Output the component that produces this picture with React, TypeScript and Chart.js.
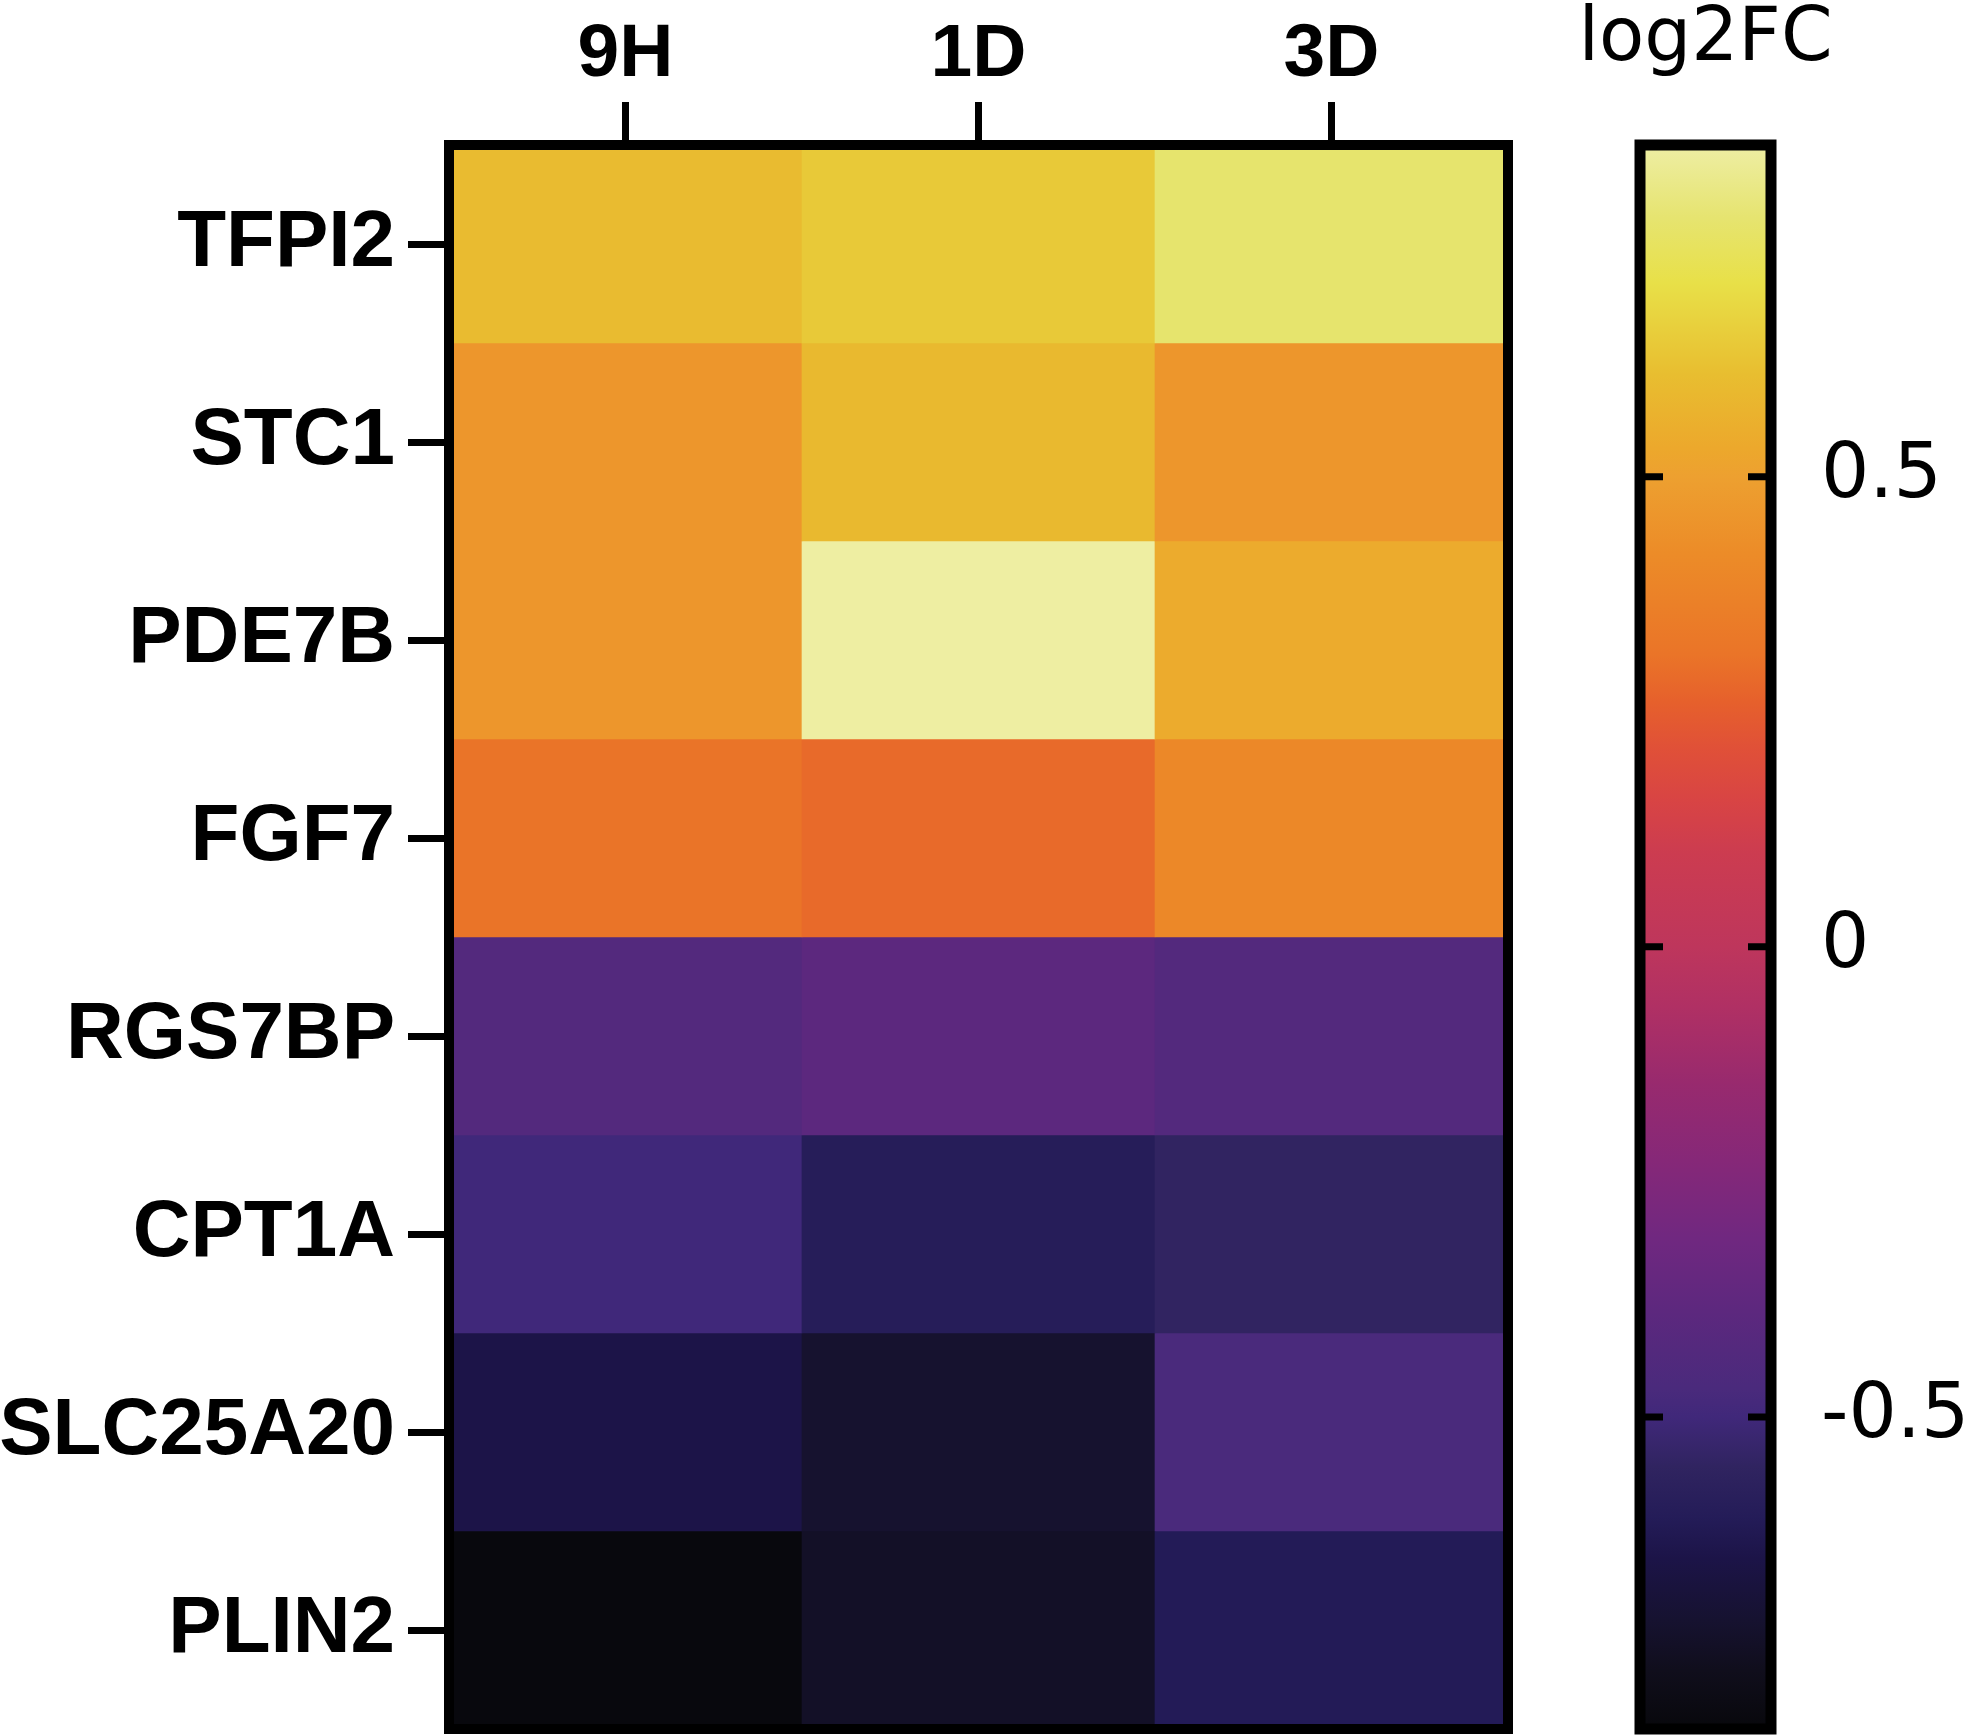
import React, { useEffect, useRef } from 'react';
import { Chart, registerables } from 'chart.js';

Chart.register(...registerables);

// ---------- data ----------
const timepoints = ['9H', '1D', '3D'];
const genes = ['TFPI2', 'STC1', 'PDE7B', 'FGF7', 'RGS7BP', 'CPT1A', 'SLC25A20', 'PLIN2'];
const log2fc9H = [0.6, 0.46, 0.46, 0.31, -0.43, -0.5, -0.65, -0.83];
const log2fc1D = [0.64, 0.59, 0.85, 0.285, -0.39, -0.6, -0.72, -0.74];
const log2fc3D = [0.77, 0.46, 0.54, 0.4, -0.43, -0.55, -0.47, -0.61];
const colorbarTicks = [-0.5, 0, 0.5];
const colorMin = -0.832;
const colorMax = 0.853;
const colorbarTitle = 'log2FC';

// colour map (value -> colour)
const stopValues = [-0.832, -0.77, -0.716, -0.65, -0.607, -0.553, -0.5, -0.47, -0.39, -0.31, -0.227, -0.145, -0.064, 0, 0.1, 0.155, 0.21, 0.26, 0.31, 0.42, 0.5, 0.53, 0.61, 0.706, 0.776, 0.853];
const stopColors = ['#08080c', '#100e1c', '#161230', '#1c1448', '#241c58', '#302460', '#40287a', '#4a2a7c', '#5c287e', '#702880', '#862878', '#982a6e', '#b03064', '#be365c', '#cc3c50', '#d84444', '#e05038', '#e6602c', '#ea7428', '#ec8c28', '#eda030', '#eca82c', '#e8be30', '#e8e048', '#e6e470', '#eeeea4'];

const BOLD_FONT = '"Liberation Sans", Arial, Helvetica, sans-serif';
const REG_FONT = '"DejaVu Sans", "Liberation Sans", Arial, sans-serif';

function hexToRgb(h: string): number[] {
  const n = parseInt(h.slice(1), 16);
  return [(n >> 16) & 255, (n >> 8) & 255, n & 255];
}

function colorFor(v: number): string {
  if (v <= stopValues[0]) return stopColors[0];
  const last = stopValues.length - 1;
  if (v >= stopValues[last]) return stopColors[last];
  for (let i = 0; i < last; i++) {
    const a = stopValues[i];
    const b = stopValues[i + 1];
    if (v >= a && v <= b) {
      const t = (v - a) / (b - a);
      const ca = hexToRgb(stopColors[i]);
      const cb = hexToRgb(stopColors[i + 1]);
      const c = ca.map((x, k) => Math.round(x + (cb[k] - x) * t));
      return `rgb(${c[0]},${c[1]},${c[2]})`;
    }
  }
  return stopColors[last];
}

function noPad(s: any) {
  s.paddingTop = 0;
  s.paddingBottom = 0;
  s.paddingLeft = 0;
  s.paddingRight = 0;
}

const boxBorderPlugin = {
  id: 'boxBorder',
  afterDatasetsDraw(chart: any) {
    const { ctx, chartArea } = chart;
    ctx.save();
    ctx.strokeStyle = '#000';
    ctx.lineWidth = 10;
    ctx.strokeRect(chartArea.left, chartArea.top, chartArea.right - chartArea.left, chartArea.bottom - chartArea.top);
    ctx.restore();
  },
};

const colorbarTicksPlugin = {
  id: 'colorbarTicks',
  afterDatasetsDraw(chart: any) {
    const { ctx, chartArea } = chart;
    const ys = chart.scales.y;
    ctx.save();
    ctx.strokeStyle = '#000';
    ctx.lineWidth = 7;
    colorbarTicks.forEach((v) => {
      const py = ys.getPixelForValue(v);
      ctx.beginPath();
      ctx.moveTo(chartArea.left, py);
      ctx.lineTo(chartArea.left + 23, py);
      ctx.moveTo(chartArea.right - 23, py);
      ctx.lineTo(chartArea.right, py);
      ctx.stroke();
    });
    ctx.lineWidth = 11;
    ctx.strokeRect(chartArea.left, chartArea.top, chartArea.right - chartArea.left, chartArea.bottom - chartArea.top);
    ctx.restore();
  },
};

export default function App() {
  const heatRef = useRef<HTMLCanvasElement | null>(null);
  const barRef = useRef<HTMLCanvasElement | null>(null);

  useEffect(() => {
    document.body.style.margin = '0';
    document.body.style.overflow = 'hidden';
    const columns = [log2fc9H, log2fc1D, log2fc3D];

    const heat = new Chart(heatRef.current as HTMLCanvasElement, {
      type: 'bar',
      data: {
        labels: timepoints,
        datasets: genes.map((g, r) => ({
          label: g,
          data: timepoints.map(() => [r, r + 1]),
          backgroundColor: columns.map((col) => colorFor(col[r])),
          borderWidth: 0,
          barPercentage: 1,
          categoryPercentage: 1,
          grouped: false,
        })) as any,
      },
      options: {
        responsive: false,
        animation: false,
        devicePixelRatio: 1,
        events: [],
        layout: { padding: { left: 0, top: 0, right: 463, bottom: 6 } },
        plugins: {
          legend: { display: false },
          tooltip: { enabled: false },
          title: { display: false },
        } as any,
        scales: {
          x: {
            type: 'category',
            position: 'top',
            offset: true,
            grid: { offset: false, drawOnChartArea: false, drawTicks: true, tickLength: 43, tickWidth: 7, tickColor: '#000' },
            border: { display: false },
            ticks: { color: '#000', font: { family: BOLD_FONT, weight: 'bold', size: 75 }, padding: 2, maxRotation: 0, autoSkip: false },
            afterFit: (s: any) => { s.height = 145; noPad(s); },
          },
          y: {
            type: 'linear',
            position: 'left',
            reverse: true,
            min: 0,
            max: genes.length,
            afterBuildTicks: (s: any) => { s.ticks = genes.map((_, i) => ({ value: i + 0.5 })); },
            grid: { drawOnChartArea: false, drawTicks: true, tickLength: 41, tickWidth: 7, tickColor: '#000' },
            border: { display: false },
            ticks: {
              color: '#000',
              font: { family: BOLD_FONT, weight: 'bold', size: 80 },
              padding: 13,
              autoSkip: false,
              callback: (_v: any, i: number) => genes[i],
            },
            afterFit: (s: any) => { s.width = 449; noPad(s); },
          },
        } as any,
      },
      plugins: [boxBorderPlugin],
    });

    const bar = new Chart(barRef.current as HTMLCanvasElement, {
      type: 'bar',
      data: {
        labels: [colorbarTitle],
        datasets: [{
          label: colorbarTitle,
          data: [[colorMin, colorMax]] as any,
          yAxisID: 'y',
          backgroundColor: (c: any) => {
            const chart = c.chart;
            if (!chart.chartArea) return stopColors[0];
            const ys = chart.scales.y;
            const g = chart.ctx.createLinearGradient(0, ys.getPixelForValue(colorMin), 0, ys.getPixelForValue(colorMax));
            stopValues.forEach((v, i) => {
              const t = Math.min(1, Math.max(0, (v - colorMin) / (colorMax - colorMin)));
              g.addColorStop(t, stopColors[i]);
            });
            return g;
          },
          borderWidth: 0,
          barPercentage: 1,
          categoryPercentage: 1,
        }],
      },
      options: {
        responsive: false,
        animation: false,
        devicePixelRatio: 1,
        events: [],
        layout: { padding: { left: 0, top: 0, right: 0, bottom: 6 } },
        plugins: {
          legend: { display: false },
          tooltip: { enabled: false },
          title: {
            display: true,
            text: colorbarTitle,
            fullSize: true,
            align: 'center',
            color: '#000',
            font: { family: REG_FONT, weight: 'normal', size: 74, lineHeight: 0.6 },
            padding: { top: 19, bottom: 81.6 },
          },
        } as any,
        scales: {
          x: { display: false },
          yLeft: {
            type: 'linear',
            position: 'left',
            display: true,
            min: colorMin,
            max: colorMax,
            grid: { display: false, drawTicks: false },
            border: { display: false },
            ticks: { display: false },
            afterFit: (s: any) => { s.width = 200; noPad(s); },
          },
          y: {
            type: 'linear',
            position: 'right',
            min: colorMin,
            max: colorMax,
            afterBuildTicks: (s: any) => { s.ticks = colorbarTicks.map((v) => ({ value: v })); },
            grid: { display: false, drawTicks: false },
            border: { display: false },
            ticks: {
              color: '#000',
              font: { family: REG_FONT, weight: 'normal', size: 76 },
              padding: 50,
              callback: (v: any) => String(v),
            },
            afterFit: (s: any) => { s.width = 200; noPad(s); },
          },
        } as any,
      },
      plugins: [colorbarTicksPlugin],
    });

    return () => {
      heat.destroy();
      bar.destroy();
    };
  }, []);

  return (
    <div style={{ position: 'relative', width: 1971, height: 1735, background: '#fff' }}>
      <canvas ref={heatRef} width={1971} height={1735} style={{ position: 'absolute', left: 0, top: 0, display: 'block' }} />
      <canvas ref={barRef} width={531} height={1735} style={{ position: 'absolute', left: 1440, top: 0, display: 'block' }} />
    </div>
  );
}
